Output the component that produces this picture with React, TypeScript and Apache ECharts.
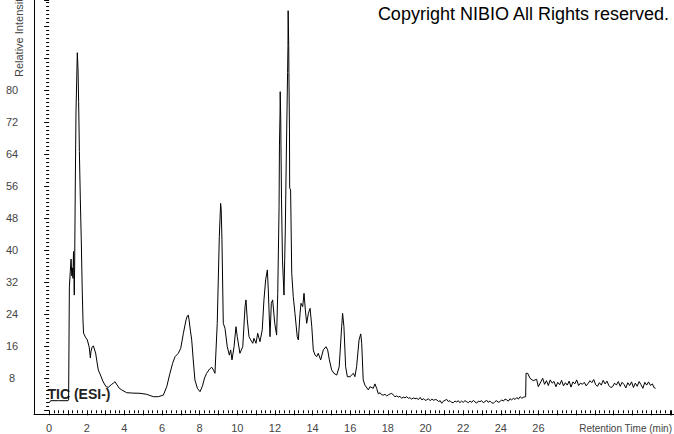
import React, { useEffect, useRef } from "react";
import * as echarts from "echarts";

// Retention time (min) and relative intensity
const retentionTime = [
  0.01, 0.08, 0.5, 1.0, 1.03, 1.07, 1.12, 1.16, 1.2, 1.23, 1.26, 1.29, 1.31, 1.33, 1.35, 1.38, 1.42, 1.49, 1.53, 1.56,
  1.6, 1.65, 1.7, 1.75, 1.79, 1.82, 1.92, 2.02, 2.12, 2.18, 2.21, 2.27, 2.34, 2.46, 2.53, 2.6, 2.69, 2.86, 3.01, 3.13,
  3.31, 3.4, 3.48, 3.6, 3.71, 3.84, 4.1, 4.43, 4.81, 5.16, 5.33, 5.51, 5.77, 6.04, 6.22, 6.39, 6.53, 6.66, 6.83, 6.96,
  7.1, 7.24, 7.31, 7.36, 7.4, 7.48, 7.54, 7.62, 7.71, 7.84, 7.98, 8.11, 8.22, 8.33, 8.48, 8.6, 8.69, 8.77, 8.89, 9.0,
  9.07, 9.1, 9.14, 9.21, 9.3, 9.42, 9.53, 9.6, 9.67, 9.78, 9.88, 9.95, 10.09, 10.24, 10.36, 10.41, 10.48, 10.57, 10.66, 10.77,
  10.83, 10.94, 11.03, 11.15, 11.27, 11.36, 11.45, 11.54, 11.59, 11.68, 11.75, 11.82, 11.93, 12.03, 12.09, 12.16, 12.18, 12.21, 12.22, 12.25,
  12.26, 12.29, 12.34, 12.42, 12.49, 12.54, 12.61, 12.63, 12.64, 12.67, 12.68, 12.71, 12.72, 12.77, 12.83, 12.91, 13.0, 13.12, 13.18, 13.27,
  13.32, 13.41, 13.48, 13.55, 13.62, 13.71, 13.8, 13.89, 13.97, 14.06, 14.15, 14.23, 14.36, 14.5, 14.64, 14.73, 14.82, 14.94, 15.06, 15.21,
  15.34, 15.47, 15.52, 15.59, 15.68, 15.77, 15.91, 16.09, 16.17, 16.26, 16.39, 16.48, 16.53, 16.61, 16.7, 16.88, 16.97, 17.14, 17.23, 17.32,
  17.41, 17.5, 17.58, 17.67, 17.76, 17.85, 17.95, 18.04, 18.12, 18.2, 18.29, 18.38, 18.47, 18.55, 18.64, 18.73, 18.82, 18.91, 19.0, 19.08,
  19.17, 19.26, 19.35, 19.44, 19.53, 19.62, 19.71, 19.8, 19.88, 19.97, 20.06, 20.15, 20.24, 20.33, 20.42, 20.5, 20.59, 20.68, 20.76, 20.85,
  20.94, 21.02, 21.11, 21.2, 21.28, 21.37, 21.46, 21.55, 21.64, 21.72, 21.81, 21.9, 21.99, 22.08, 22.17, 22.26, 22.35, 22.44, 22.52, 22.61,
  22.7, 22.78, 22.87, 22.96, 23.05, 23.14, 23.22, 23.31, 23.4, 23.49, 23.58, 23.67, 23.75, 23.84, 23.93, 24.02, 24.11, 24.2, 24.29, 24.37,
  24.46, 24.55, 24.64, 24.73, 24.82, 24.91, 25.0, 25.07, 25.2, 25.22, 25.31, 25.43, 25.6, 25.78, 25.87, 26.1, 26.2, 26.3, 26.4, 26.5,
  26.6, 26.7, 26.8, 26.9, 27.0, 27.1, 27.2, 27.3, 27.4, 27.5, 27.6, 27.7, 27.8, 27.9, 28.0, 28.1, 28.2, 28.3, 28.4, 28.5,
  28.6, 28.7, 28.8, 28.9, 29.0, 29.1, 29.2, 29.3, 29.4, 29.5, 29.6, 29.7, 29.8, 29.9, 30.0, 30.1, 30.2, 30.3, 30.4, 30.5,
  30.6, 30.7, 30.8, 30.9, 31.0, 31.1, 31.2, 31.3, 31.4, 31.5, 31.6, 31.7, 31.8, 31.9, 32.0, 32.07,
];

const relativeIntensity = [
  1.9, 2.4, 2.4, 2.4, 2.6, 30.8, 34.8, 37.8, 33.6, 35.6, 33.0, 39.7, 34.5, 28.8, 36.0, 54.3, 74.3, 89.4, 85.1, 77.2,
  64.7, 52.6, 42.6, 30.1, 22.6, 19.3, 18.3, 17.6, 15.8, 13.1, 14.6, 15.8, 16.1, 14.3, 12.1, 10.1, 9.1, 7.1, 5.9, 5.75,
  6.5, 6.8, 7.15, 6.3, 5.5, 5.1, 4.4, 4.3, 4.25, 4.0, 3.7, 3.4, 3.4, 3.8, 5.9, 9.25, 11.75, 13.4, 14.25, 15.5,
  19.25, 22.6, 23.6, 23.8, 22.6, 19.6, 17.6, 12.6, 7.6, 5.5, 4.65, 6.1, 8.1, 9.25, 10.3, 10.75, 10.1, 9.25, 21.75, 43.4,
  51.75, 50.1, 42.6, 21.75, 20.5, 15.9, 13.8, 15.1, 12.6, 15.9, 20.9, 18.4, 14.25, 15.9, 25.9, 27.6, 22.6, 18.4, 17.6, 16.75,
  18.0, 16.75, 19.25, 17.15, 20.1, 27.6, 32.6, 35.1, 30.1, 18.4, 26.75, 27.6, 21.75, 18.8, 29.25, 50.9, 66.1, 74.3, 79.65, 72.6,
  66.1, 52.6, 37.6, 28.8, 45.1, 62.6, 84.4, 91.15, 99.9, 91.15, 84.4, 70.1, 55.6, 55.1, 34.25, 28.4, 24.25, 18.4, 17.6, 24.25,
  26.75, 25.9, 29.25, 25.1, 21.75, 24.25, 25.5, 20.9, 15.1, 13.8, 13.4, 14.25, 12.6, 15.1, 15.9, 15.1, 12.6, 10.1, 9.25, 8.8,
  10.9, 20.9, 24.25, 20.9, 10.9, 8.4, 8.4, 9.25, 8.4, 10.9, 17.6, 19.1, 16.75, 7.6, 6.3, 5.1, 5.9, 5.5, 6.6, 5.5,
  4.1, 4.4, 3.9, 3.8, 4.0, 3.6, 3.9, 4.1, 4.25, 3.8, 3.4, 3.6, 3.3, 3.5, 3.0, 3.3, 3.1, 3.4, 3.0, 3.15,
  2.8, 3.1, 2.9, 3.0, 2.7, 3.2, 2.6, 2.9, 2.5, 2.6, 2.9, 2.4, 2.8, 2.5, 2.7, 2.6, 2.2, 2.4, 1.75, 2.3,
  2.5, 2.75, 2.2, 2.4, 2.0, 1.9, 2.3, 2.1, 2.4, 1.9, 2.3, 2.0, 2.4, 2.15, 1.9, 2.3, 2.0, 2.5, 2.1, 1.8,
  2.3, 2.15, 2.4, 1.9, 2.2, 2.5, 2.0, 2.3, 1.9, 1.75, 2.2, 2.4, 2.0, 2.15, 2.6, 2.3, 2.8, 2.6, 2.3, 2.9,
  2.6, 3.0, 2.7, 3.2, 2.8, 3.4, 3.0, 3.25, 3.4, 9.25, 9.25, 8.0, 7.4, 7.75, 5.9, 8.0, 6.5, 7.4, 6.2, 7.6,
  6.8, 7.2, 5.9, 7.0, 6.4, 7.5, 6.1, 6.9, 6.3, 7.3, 5.8, 7.1, 6.6, 7.6, 6.2, 6.8, 6.5, 7.0, 6.1, 6.7,
  7.4, 6.9, 7.7, 6.4, 6.0, 6.9, 6.3, 7.5, 6.6, 7.3, 6.2, 5.7, 5.9, 6.8, 6.3, 7.2, 6.0, 7.0, 6.5, 5.6,
  6.9, 6.2, 7.1, 5.7, 6.8, 6.0, 7.2, 6.4, 5.5, 7.0, 6.3, 7.1, 6.2, 6.6, 5.6, 5.5,
];

const xTickLabels = [0, 2, 4, 6, 8, 10, 12, 14, 16, 18, 20, 22, 24, 26];
const yTickLabels = [8, 16, 24, 32, 40, 48, 56, 64, 72, 80];

const X_MIN = -0.8;
const X_MAX = 33.045;
const Y_MIN = -0.925;
const Y_MAX = 102.575;

const FONT = '"Liberation Sans", Arial, sans-serif';
const LABEL_COLOR = "#444";

export default function App() {
  const ref = useRef<HTMLDivElement>(null);

  useEffect(() => {
    if (!ref.current) return;
    const chart = echarts.init(ref.current, null, { renderer: "svg" });
    const data = retentionTime.map((t, i) => [t, relativeIntensity[i]]);
    const near = (v: number, list: number[]) =>
      Math.abs(v - Math.round(v)) < 1e-6 && list.includes(Math.round(v));

    chart.setOption({
      animation: false,
      backgroundColor: "#fff",
      grid: [
        { left: 34, right: 0, top: 0, bottom: 20 },
        { left: 49.13, right: 0, top: 0, bottom: 23.7 },
      ],
      xAxis: [
        {
          type: "value",
          gridIndex: 0,
          min: X_MIN,
          max: X_MAX,
          axisLine: { show: true, onZero: false, lineStyle: { color: "#000", width: 1 } },
          axisTick: { show: false },
          axisLabel: { show: false },
          splitLine: { show: false },
        },
        {
          type: "value",
          gridIndex: 1,
          min: 0,
          max: X_MAX,
          interval: 1,
          offset: 3.7,
          axisLine: { show: false },
          axisTick: { show: true, length: 5, lineStyle: { color: "#000", width: 1 } },
          minorTick: { show: true, splitNumber: 4, length: 3, lineStyle: { color: "#000", width: 1 } },
          axisLabel: {
            show: true,
            margin: 8,
            color: LABEL_COLOR,
            fontSize: 11,
            fontFamily: FONT,
            formatter: (v: number) => (near(v, xTickLabels) ? String(Math.round(v)) : ""),
          },
          splitLine: { show: false },
        },
      ],
      yAxis: [
        {
          type: "value",
          gridIndex: 0,
          min: Y_MIN,
          max: Y_MAX,
          axisLine: { show: true, onZero: false, lineStyle: { color: "#000", width: 1 } },
          axisTick: { show: false },
          axisLabel: { show: false },
          splitLine: { show: false },
        },
        {
          type: "value",
          gridIndex: 1,
          min: 0,
          max: Y_MAX,
          interval: 8,
          offset: 15.13,
          axisLine: { show: false },
          axisTick: { show: true, length: 5, lineStyle: { color: "#000", width: 1 } },
          minorTick: { show: true, splitNumber: 8, length: 3, lineStyle: { color: "#000", width: 1 } },
          axisLabel: {
            show: true,
            margin: 22,
            align: "center",
            color: LABEL_COLOR,
            fontSize: 11,
            fontFamily: FONT,
            formatter: (v: number) => (near(v, yTickLabels) ? String(Math.round(v)) : ""),
          },
          splitLine: { show: false },
        },
      ],
      series: [
        {
          type: "line",
          xAxisIndex: 0,
          yAxisIndex: 0,
          data,
          showSymbol: false,
          symbol: "none",
          silent: true,
          lineStyle: { color: "#000", width: 1 },
        },
      ],
      graphic: [
        {
          type: "text",
          x: 669,
          y: 14,
          style: {
            text: "Copyright NIBIO All Rights reserved.",
            font: `18px ${FONT}`,
            fill: "#000",
            align: "right",
            verticalAlign: "middle",
          },
        },
        {
          type: "text",
          x: 47.5,
          y: 394,
          style: {
            text: "TIC (ESI-)",
            font: `bold 14px ${FONT}`,
            fill: "#222",
            align: "left",
            verticalAlign: "middle",
          },
        },
        {
          type: "text",
          x: 672,
          y: 428,
          style: {
            text: "Retention Time (min)",
            font: `10px ${FONT}`,
            fill: LABEL_COLOR,
            align: "right",
            verticalAlign: "middle",
          },
        },
        {
          type: "text",
          x: 19,
          y: 77,
          rotation: Math.PI / 2,
          style: {
            text: "Relative Intensity",
            font: `11px ${FONT}`,
            fill: LABEL_COLOR,
            align: "left",
            verticalAlign: "middle",
          },
        },
      ],
    });

    return () => chart.dispose();
  }, []);

  return (
    <div
      ref={ref}
      style={{ position: "absolute", left: 0, top: 0, width: 674, height: 434, background: "#fff" }}
    />
  );
}
